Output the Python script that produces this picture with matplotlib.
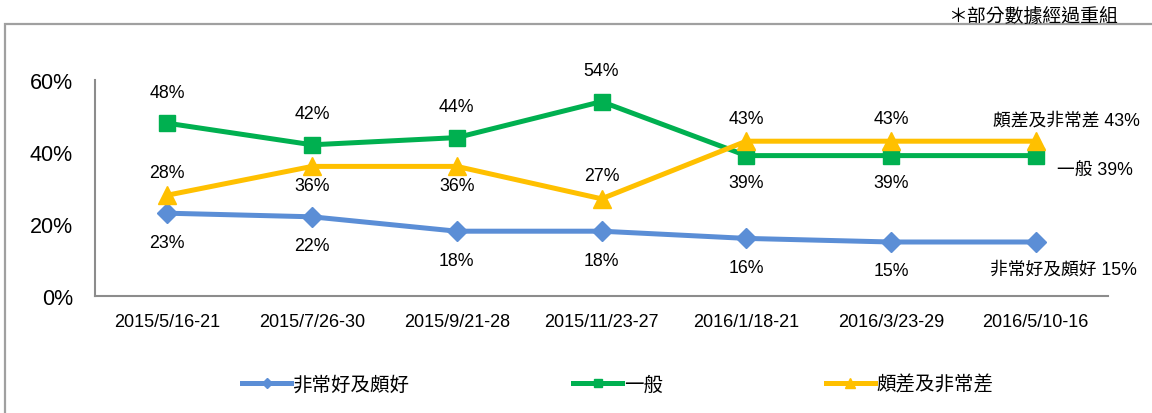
import matplotlib.pyplot as plt
from matplotlib.patches import Rectangle

plt.rcParams['font.family'] = ['Liberation Sans', 'Noto Sans CJK TC', 'DejaVu Sans']

# 資料
periods = ['2015/5/16-21', '2015/7/26-30', '2015/9/21-28', '2015/11/23-27',
           '2016/1/18-21', '2016/3/23-29', '2016/5/10-16']
good = [23, 22, 18, 18, 16, 15, 15]
average = [48, 42, 44, 54, 39, 39, 39]
bad = [28, 36, 36, 27, 43, 43, 43]
names = ['非常好及頗好', '一般', '頗差及非常差']
note = '＊部分數據經過重組'

c_good = '#5B8ED6'
c_avg = '#00B050'
c_bad = '#FFC000'

fig = plt.figure(figsize=(11.52, 4.14), dpi=100)
ax = fig.add_axes([95/1152, 1-297/414, (1108-95)/1152, (297-81)/414])

x = list(range(len(periods)))
ax.plot(x, good, c=c_good, lw=3.6, marker='D', ms=10, label=names[0])
ax.plot(x, average, c=c_avg, lw=3.6, marker='s', ms=11.5, label=names[1])
ax.plot(x, bad, c=c_bad, lw=3.6, marker='^', ms=13, label=names[2])

ax.set_xlim(-0.5, len(periods) - 0.5)
ax.set_ylim(0, 60)
ax.set_yticks([0, 20, 40, 60])
ax.set_yticklabels(['%d%%' % v for v in [0, 20, 40, 60]], fontsize=15.5)
ax.set_xticks(x)
ax.set_xticklabels(periods, fontsize=13)
ax.tick_params(axis='y', length=0, pad=16)
ax.tick_params(axis='x', length=0, pad=12)
for s in ['top', 'right']:
    ax.spines[s].set_visible(False)
for s in ['left', 'bottom']:
    ax.spines[s].set_color('#8c8c8c')
    ax.spines[s].set_linewidth(1.5)

px = 0.72  # points per pixel


def lab(i, v, dy):
    ax.annotate('%d%%' % v, (i, v), xytext=(0, dy * px), textcoords='offset points',
                ha='center', va='center', fontsize=12.8)


# 數據標籤
for i in range(len(periods) - 1):
    lab(i, good[i], -29)
    lab(i, average[i], 31 if average[i] > bad[i] else -27)
    lab(i, bad[i], -19 if 30 < bad[i] < average[i] else 23)

n = len(periods) - 1
ax.annotate('%s %d%%' % (names[2], bad[n]), (n, bad[n]), xytext=(31 * px, 21 * px),
            textcoords='offset points', ha='center', va='center', fontsize=12.8)
ax.annotate('%s %d%%' % (names[1], average[n]), (n, average[n]), xytext=(21 * px, -15 * px),
            textcoords='offset points', ha='left', va='center', fontsize=12.8)
ax.annotate('%s %d%%' % (names[0], good[n]), (n, good[n]), xytext=(28 * px, -27 * px),
            textcoords='offset points', ha='center', va='center', fontsize=12.8)

# 圖例
fig.legend(loc='center', bbox_to_anchor=(618/1152, 1-385/414), ncol=3, frameon=False,
           fontsize=14, handlelength=2.5, handletextpad=0.1, columnspacing=8.4,
           markerscale=0.5)

# 外框與備註
fig.patches.append(Rectangle((5/1152, -0.1), 1.2, 1-25/414+0.1, transform=fig.transFigure,
                             fill=False, ec='#a0a0a0', lw=1.6))
fig.text(1118/1152, 1-16/414, note, ha='right', va='center', fontsize=13.6,
         family=['Noto Sans CJK TC'])

plt.savefig('out.png', dpi=100)
